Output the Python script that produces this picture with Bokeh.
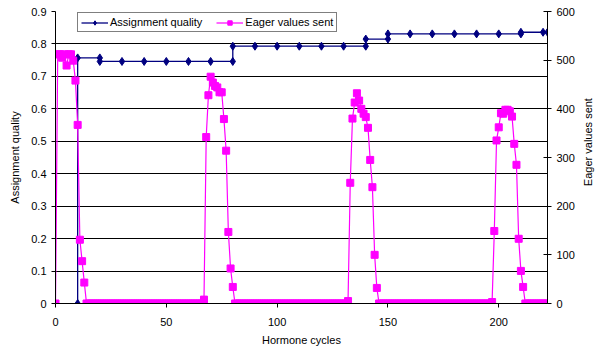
import math
from bokeh.plotting import figure
from bokeh.layouts import row
from bokeh.models import (Range1d, LinearAxis, FixedTicker, CustomJSTickFormatter,
                          Legend, LegendItem)
from bokeh.core.properties import value
from bokeh.embed import file_html
from bokeh.resources import INLINE

# Assignment quality (left axis)
quality_x = [10, 10, 20, 20, 30, 40, 50, 60, 70, 80, 80, 90, 100, 110, 120, 130,
             140, 140, 150, 150, 160, 170, 180, 190, 200, 210, 210, 220, 222]
quality_y = [0, 0.757, 0.757, 0.746, 0.746, 0.746, 0.746, 0.746, 0.746, 0.746,
             0.793, 0.793, 0.793, 0.793, 0.793, 0.793, 0.793, 0.815, 0.815, 0.831,
             0.831, 0.831, 0.831, 0.831, 0.831, 0.831, 0.836, 0.836, 0.836]

# Eager values sent (right axis), one value per hormone cycle 0..222
eager_y = [
    0, 512, 512, 505, 512, 489, 512, 512, 499, 458, 367, 131, 87, 43,          # 0-13
    0, 0, 0, 0, 0, 0, 0, 0, 0, 0, 0, 0, 0, 0, 0, 0, 0, 0, 0, 0,                 # 14-33
    0, 0, 0, 0, 0, 0, 0, 0, 0, 0, 0, 0, 0, 0, 0, 0, 0, 0, 0, 0,                 # 34-53
    0, 0, 0, 0, 0, 0, 0, 0, 0, 0, 0, 0, 0,                                      # 54-66
    8, 342, 428, 466, 454, 447, 444, 434, 434, 379, 314, 147, 72, 34,           # 67-80
    0, 0, 0, 0, 0, 0, 0, 0, 0, 0, 0, 0, 0, 0, 0, 0, 0, 0, 0, 0,                 # 81-100
    0, 0, 0, 0, 0, 0, 0, 0, 0, 0, 0, 0, 0, 0, 0, 0, 0, 0, 0, 0,                 # 101-120
    0, 0, 0, 0, 0, 0, 0, 0, 0, 0, 0,                                            # 121-131
    5, 248, 380, 413, 432, 417, 400, 390, 383, 361, 295, 239, 100, 32,          # 132-145
    0, 0, 0, 0, 0, 0, 0, 0, 0, 0, 0, 0, 0, 0, 0, 0, 0, 0, 0, 0,                 # 146-165
    0, 0, 0, 0, 0, 0, 0, 0, 0, 0, 0, 0, 0, 0, 0, 0, 0, 0, 0, 0,                 # 166-185
    0, 0, 0, 0, 0, 0, 0, 0, 0, 0, 0,                                            # 186-196
    3, 149, 335, 362, 391, 390, 398, 398, 395, 384, 328, 285, 133, 67, 34,      # 197-211
    0, 0, 0, 0, 0, 0, 0, 0, 0, 0, 0,                                            # 212-222
]
eager_x = list(range(len(eager_y)))

x_ticks = [0, 50, 100, 150, 200]
left_ticks = [0, 0.1, 0.2, 0.3, 0.4, 0.5, 0.6, 0.7, 0.8, 0.9]
right_ticks = [0, 100, 200, 300, 400, 500, 600]
right_title = ["Eager values sent"]

FONT = "Liberation Sans"
NAVY = "#000080"
MAGENTA = "#FF00FF"

p = figure(width=580, height=351, output_backend="svg", toolbar_location=None,
           x_range=Range1d(0, 222), y_range=Range1d(0, 0.9),
           min_border_left=55, min_border_right=33, min_border_top=11,
           min_border_bottom=48, background_fill_color="white",
           border_fill_color="white", outline_line_color=None)
p.extra_y_ranges = {"eager": Range1d(0, 600)}

# grid
p.xgrid.grid_line_color = None
p.ygrid.ticker = FixedTicker(ticks=left_ticks)
p.ygrid.grid_line_color = "#000000"
p.ygrid.grid_line_width = 1

def style_axis(ax):
    ax.axis_line_color = "#000000"
    ax.major_tick_line_color = "#000000"
    ax.minor_tick_line_color = None
    ax.major_label_text_font = FONT
    ax.major_label_text_font_size = "11px"
    ax.major_label_text_color = "#000000"
    ax.axis_label_text_font = FONT
    ax.axis_label_text_font_size = "11px"
    ax.axis_label_text_font_style = "normal"
    ax.axis_label_text_color = "#000000"

xa = p.xaxis[0]
style_axis(xa)
xa.ticker = FixedTicker(ticks=x_ticks)
xa.axis_label = "Hormone cycles"
xa.major_tick_in = 0
xa.major_tick_out = 4
xa.major_label_standoff = 10
xa.axis_label_standoff = 5

ya = p.yaxis[0]
style_axis(ya)
ya.ticker = FixedTicker(ticks=left_ticks)
ya.formatter = CustomJSTickFormatter(code="return tick === 0 ? '0' : tick.toFixed(1);")
ya.axis_label = "Assignment quality"
ya.major_tick_in = 0
ya.major_tick_out = 4
ya.major_label_standoff = 5
ya.axis_label_standoff = 7

ra = LinearAxis(y_range_name="eager", ticker=FixedTicker(ticks=right_ticks))
style_axis(ra)
ra.major_tick_in = 4
ra.major_tick_out = 4
ra.major_label_standoff = 5
p.add_layout(ra, "right")

# series
ql = p.line(quality_x, quality_y, line_color=NAVY, line_width=1.3)
qs = p.scatter(quality_x, quality_y, marker="diamond", size=8,
               fill_color=NAVY, line_color=NAVY)
el = p.line(eager_x, eager_y, line_color=MAGENTA, line_width=1.2, y_range_name="eager")
es = p.scatter(eager_x, eager_y, marker="square", size=7, fill_color=MAGENTA,
               line_color=MAGENTA, y_range_name="eager")

legend = Legend(items=[LegendItem(label="Assignment quality", renderers=[ql, qs]),
                       LegendItem(label="Eager values sent", renderers=[el, es])],
                orientation="horizontal", location=(22, 271),
                label_text_font=FONT, label_text_font_size="11px",
                label_text_color="#000000", glyph_width=27, glyph_height=11,
                label_height=11, label_standoff=2, spacing=14, padding=3,
                margin=0, border_line_color="#000000", border_line_width=1,
                background_fill_color="white", background_fill_alpha=1)
p.add_layout(legend, "center")

# narrow strip holding the right-axis title (reads bottom to top)
q = figure(width=18, height=351, output_backend="svg", toolbar_location=None,
           x_range=Range1d(0, 18), y_range=Range1d(0, 351),
           x_axis_type=None, y_axis_type=None, min_border=0,
           outline_line_color=None, background_fill_color="white",
           border_fill_color="white")
q.xgrid.visible = False
q.ygrid.visible = False
q.text(x=[7], y=[194], text=right_title, angle=math.pi / 2,
       text_align="center", text_baseline="middle",
       text_font=value(FONT), text_font_size="11px", text_color="#000000")

layout = row(p, q, spacing=0)
open("out.html", "w").write(file_html(layout, INLINE))
